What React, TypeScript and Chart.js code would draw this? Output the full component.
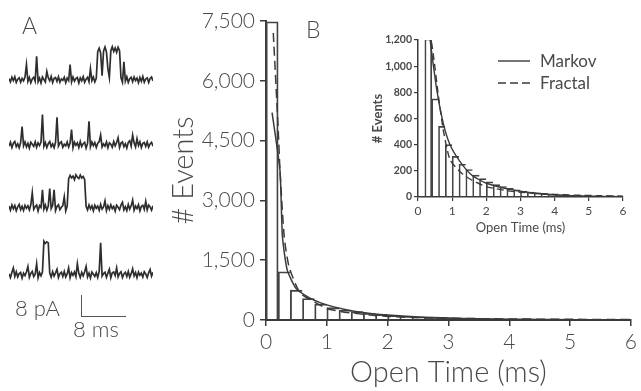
import React, { useEffect, useRef } from "react";
import { Chart, registerables } from "chart.js";
Chart.register(...registerables);

// ---------- DATA ----------
// Histogram bins (ms, bin centres) and event counts
const binMid = [0.1, 0.3, 0.5, 0.7, 0.9, 1.1, 1.3, 1.5, 1.7, 1.9, 2.1, 2.3, 2.5, 2.7, 2.9, 3.1, 3.3, 3.5, 3.7, 3.9, 4.1, 4.3, 4.5, 4.7, 4.9, 5.1, 5.3, 5.5, 5.7, 5.9];
const binCounts = [7480, 1208, 750, 540, 400, 310, 250, 210, 167, 140, 115, 95, 80, 66, 55, 46, 38, 32, 27, 22, 19, 16, 13, 11, 9, 8, 7, 6, 5, 4];

// Main panel fits
const markovTime = [0.1, 0.23, 0.27, 0.35, 0.5, 0.7, 0.9, 1.1, 1.3, 1.5, 1.75, 2.0, 2.5, 3.0, 3.5, 4.0, 4.5, 5.0, 5.5, 6.0];
const markovFit = [5200, 3750, 2100, 1250, 780, 570, 430, 335, 265, 210, 160, 125, 78, 48, 30, 20, 13, 9, 6, 4];
const fractalTime = [0.12, 0.2, 0.23, 0.3, 0.38, 0.56, 0.8, 1.0, 1.25, 1.5, 1.75, 2.0, 2.5, 3.0, 3.5, 4.0, 4.5, 5.0, 5.5, 6.0];
const fractalFit = [7200, 4800, 3750, 2080, 1330, 680, 450, 290, 205, 160, 120, 90, 62, 45, 34, 26, 21, 17, 14, 12];

// Inset fits
const insetMarkovTime = [0.33, 0.39, 0.55, 0.74, 0.94, 1.23, 1.57, 2.0, 2.69, 3.3, 4.0, 4.6, 5.3, 6.0];
const insetMarkovFit = [1260, 1124, 818, 563, 397, 270, 168, 105, 58, 32, 16, 9, 5, 3];
const insetFractalTime = [0.3, 0.45, 0.6, 0.74, 0.94, 1.28, 1.57, 2.0, 2.7, 3.3, 4.0, 4.6, 5.3, 6.0];
const insetFractalFit = [1350, 1085, 767, 512, 283, 181, 130, 79, 45, 30, 20, 14, 10, 7];

const timeTicks = [0, 1, 2, 3, 4, 5, 6];
const mainCountTicks = [0, 1500, 3000, 4500, 6000, 7500];
const insetCountTicks = [0, 200, 400, 600, 800, 1000, 1200];

// Panel A: single-channel current traces (pA)
const trace1 = [0.4, -0.8, 0.9, -0.3, 1.1, -1.0, 0.2, 0.7, -0.9, 0.5,
  -0.4, 1.0, 5.5, -0.6, 0.8, -1.1, 0.3, 0.9, -0.5, 8.5,
  -0.7, 0.6, -1.2, 1.0, 0.1, -0.8, 3.0, 0.7, -0.4, 1.2,
  -1.0, 0.5, 0.8, -0.6, 1.1, -0.9, 0.3, -0.2, 0.9, -1.1,
  0.6, -0.3, 5.5, -0.8, 1.0, -0.5, 0.4, 0.8, -1.2, 0.7,
  -0.4, 1.1, -0.9, 0.2, 0.9, -0.7, 4.0, -0.3, 1.0, -0.8,
  0.5, 10.2, 11.5, 9.8, 1.5, 10.4, 11.9, 10.1, 4.0, 0.8,
  10.5, 12.0, 10.3, 11.6, 10.0, 11.8, 10.6, 0.7, -0.9, 6.5,
  -0.5, 1.1, -1.0, 0.4, 0.9, -0.7, 1.0, -0.3, 0.6, -1.1,
  0.8, -0.6, 1.2, -0.9, 0.3, 0.7, -1.0, 0.5, 1.0, -0.4];
const trace2 = [-0.5, 0.9, -1.0, 0.6, 1.2, -0.7, 0.3, -1.1, 0.8, 6.6,
  -0.4, 1.0, -0.8, 0.5, -1.2, 0.9, 0.2, -0.6, 1.1, -0.9,
  0.7, -0.3, 1.0, 11.0, -0.6, 0.8, -1.0, 0.4, 1.2, -0.7,
  0.3, -1.1, 0.9, 10.0, -0.5, 0.6, 1.1, -0.9, 0.2, -0.4,
  1.0, -0.8, 0.6, 5.5, -1.1, 0.9, -0.2, 0.7, -1.0, 1.2,
  -0.6, 0.4, 0.9, -1.2, 0.5, 8.5, -0.7, 1.0, -0.3, 0.8,
  -1.0, 0.6, 1.1, 3.5, -0.8, 0.3, -0.5, 1.0, -1.1, 0.7,
  0.2, -0.9, 1.2, -0.4, 0.8, 2.5, -1.0, 0.6, 1.0, -0.7,
  0.4, -1.2, 0.9, 1.5, -0.5, 3.5, 0.7, -0.8, 2.2, -0.3,
  1.1, -1.0, 0.5, 0.8, -0.6, 1.0, -0.9, 0.3, 0.9, -0.5];
const trace3 = [0.6, -0.9, 1.0, -0.4, 0.8, -1.1, 0.3, 1.2, -0.7, 0.5,
  -1.0, 0.9, -0.2, 0.7, -0.8, 1.1, 5.5, -0.6, 0.4, 1.0,
  -1.2, 0.8, 0.1, 6.5, -0.5, 1.0, -0.9, 0.6, 7.0, -0.3,
  0.9, 6.5, -1.0, 0.5, 1.1, -0.7, 0.2, 0.8, 4.0, -1.1,
  0.6, 10.5, 11.8, 10.9, 11.5, 10.2, 12.0, 11.1, 10.6, 11.9,
  10.8, 11.4, 10.3, 0.5, -0.8, 1.0, -0.4, 0.7, -1.1, 0.9,
  -0.2, 0.6, -0.9, 1.2, -0.5, 0.3, 2.5, -1.0, 0.8, -0.6,
  1.1, -0.3, 0.5, -1.2, 0.9, 0.2, -0.7, 1.0, 2.0, -0.8,
  0.4, -1.0, 1.2, -0.5, 0.7, 2.8, -0.9, 0.6, -0.3, 1.1,
  -1.1, 0.5, 0.9, -0.6, 2.3, -0.8, 1.0, 0.3, -0.9, 0.7];
const trace4 = [0.3, -1.0, 0.9, 2.5, -0.6, 1.1, -0.8, 0.4, 0.8, -1.2,
  0.6, -0.3, 1.0, 3.0, -0.9, 0.5, 1.2, -0.7, 0.2, 4.0,
  -1.1, 0.8, -0.4, 1.0, 12.2, 11.4, 12.0, 11.6, 0.6, -0.9,
  1.1, -0.5, 0.7, 2.0, -1.0, 0.4, 0.9, -0.6, 1.2, -0.8,
  0.3, 2.5, -1.1, 0.8, -0.2, 1.0, -0.7, 4.0, 0.5, -1.0,
  0.9, -0.4, 1.1, 3.0, -0.8, 0.6, -1.2, 1.0, 0.2, -0.6,
  0.8, -1.0, 1.2, 11.6, -0.5, 0.4, 0.9, -0.9, 0.6, 2.0,
  -1.1, 0.7, 1.0, -0.3, 2.5, -0.8, 0.5, 1.1, -1.0, 0.3,
  0.9, -0.6, 1.2, -0.9, 0.4, 2.2, -0.4, 0.8, -1.1, 1.0,
  -0.2, 0.6, -0.8, 1.1, 0.3, -1.0, 0.7, 1.9, -0.5, 0.9];

// ---------- STYLE ----------
const FONT = "Lato, 'DejaVu Sans', sans-serif";
const TEXT = "#4a4a4a";
const LINE = "#3a3a3a";

const fmt = (v: number) => Number(v).toLocaleString("en-US");
const pts = (xs: number[], ys: number[]) => xs.map((x, i) => ({ x, y: ys[i] }));

const base = {
  responsive: false,
  animation: false as const,
  devicePixelRatio: 1,
  plugins: { legend: { display: false }, tooltip: { enabled: false } },
  events: [] as any[],
};

// bars share their side edges: draw left + top, plus the right edge only on the first (tallest) bin
const barBorder = (w: number) => (ctx: any) =>
  ctx.dataIndex === 0 ? { left: w, top: w, right: w, bottom: 0 } : { left: w, top: w, right: 0, bottom: 0 };

function useChart(ref: React.RefObject<HTMLCanvasElement>, make: () => any) {
  useEffect(() => {
    if (!ref.current) return;
    const c = new Chart(ref.current, make());
    return () => c.destroy();
  }, []);
}

function MainChart() {
  const ref = useRef<HTMLCanvasElement>(null);
  useChart(ref, () => ({
    type: "bar",
    data: {
      datasets: [
        { type: "line", data: pts(markovTime, markovFit), borderColor: LINE, borderWidth: 1.5, pointRadius: 0, tension: 0.2, order: 1, clip: false },
        { type: "line", data: pts(fractalTime, fractalFit), borderColor: LINE, borderWidth: 1.5, borderDash: [9, 5], pointRadius: 0, tension: 0.2, order: 1, clip: false },
        { type: "bar", data: pts(binMid, binCounts), backgroundColor: "rgba(0,0,0,0)", borderColor: "#444", borderWidth: barBorder(1.2), barPercentage: 1, categoryPercentage: 1, order: 2 },
      ],
    },
    options: {
      ...base,
      layout: { padding: { left: 166, top: 21, right: 6, bottom: 0 } },
      scales: {
        x: {
          type: "linear", min: 0, max: 6, offset: false,
          afterBuildTicks: (s: any) => { s.ticks = timeTicks.map((v) => ({ value: v })); },
          ticks: { color: TEXT, font: { family: FONT, size: 21, weight: "300" }, padding: 4, maxRotation: 0, autoSkip: false },
          grid: { drawOnChartArea: false, drawTicks: true, tickLength: 6, color: LINE, lineWidth: 1.5, offset: false },
          border: { display: true, color: LINE, width: 2 },
          title: { display: true, text: "Open Time (ms)", color: TEXT, font: { family: FONT, size: 29, weight: "300" }, padding: { top: 0, bottom: 1 } },
          afterFit: (s: any) => { s.height = 71; },
        },
        y: {
          type: "linear", min: 0, max: 7500,
          afterBuildTicks: (s: any) => { s.ticks = mainCountTicks.map((v) => ({ value: v })); },
          ticks: { color: TEXT, font: { family: FONT, size: 21, weight: "300" }, padding: 5, callback: (v: any) => fmt(v) },
          grid: { drawOnChartArea: false, drawTicks: true, tickLength: 6, color: LINE, lineWidth: 1.5 },
          border: { display: true, color: LINE, width: 2 },
          title: { display: true, text: "# Events", color: TEXT, font: { family: FONT, size: 29, weight: "300" }, padding: { top: 0, bottom: 0 } },
          afterFit: (s: any) => { s.width = 100; },
        },
      },
    },
  }));
  return <canvas ref={ref} width={641} height={391} style={{ position: "absolute", left: 0, top: 0 }} />;
}

function InsetChart() {
  const ref = useRef<HTMLCanvasElement>(null);
  useChart(ref, () => ({
    type: "bar",
    data: {
      datasets: [
        { type: "line", data: pts(insetMarkovTime, insetMarkovFit), borderColor: LINE, borderWidth: 1.4, pointRadius: 0, tension: 0.2, order: 1 },
        { type: "line", data: pts(insetFractalTime, insetFractalFit), borderColor: LINE, borderWidth: 1.4, borderDash: [7, 4], pointRadius: 0, tension: 0.2, order: 1 },
        { type: "bar", data: pts(binMid.slice(1), binCounts.slice(1)), backgroundColor: "rgba(0,0,0,0)", borderColor: "#444", borderWidth: barBorder(1), barPercentage: 1, categoryPercentage: 1, order: 2 },
      ],
    },
    options: {
      ...base,
      layout: { padding: { left: 10, top: 15, right: 12, bottom: 0 } },
      scales: {
        x: {
          type: "linear", min: 0, max: 6, offset: false,
          afterBuildTicks: (s: any) => { s.ticks = timeTicks.map((v) => ({ value: v })); },
          ticks: { color: TEXT, font: { family: FONT, size: 12, weight: "400" }, padding: 3, maxRotation: 0, autoSkip: false },
          grid: { drawOnChartArea: false, drawTicks: true, tickLength: 4, color: LINE, lineWidth: 1.2, offset: false },
          border: { display: true, color: LINE, width: 1.5 },
          title: { display: true, text: "Open Time (ms)", color: TEXT, font: { family: FONT, size: 13, weight: "400" }, padding: { top: 0, bottom: 4 } },
          afterFit: (s: any) => { s.height = 43; },
        },
        y: {
          type: "linear", min: 0, max: 1200,
          afterBuildTicks: (s: any) => { s.ticks = insetCountTicks.map((v) => ({ value: v })); },
          ticks: { color: TEXT, font: { family: FONT, size: 10.5, weight: "700" }, padding: 2, callback: (v: any) => fmt(v) },
          grid: { drawOnChartArea: false, drawTicks: true, tickLength: 4, color: LINE, lineWidth: 1.2 },
          border: { display: true, color: LINE, width: 1.5 },
          title: { display: true, text: "# Events", color: TEXT, font: { family: FONT, size: 13, weight: "700" }, padding: { top: 0, bottom: 0 } },
          afterFit: (s: any) => { s.width = 48; },
        },
      },
    },
  }));
  return <canvas ref={ref} width={275} height={215} style={{ position: "absolute", left: 360, top: 25 }} />;
}

function Trace({ values, top }: { values: number[]; top: number }) {
  const ref = useRef<HTMLCanvasElement>(null);
  useChart(ref, () => ({
    type: "line",
    data: {
      datasets: [{ data: values.map((v, i) => ({ x: i, y: v })), borderColor: "#2e2e2e", borderWidth: 1.7, pointRadius: 0, tension: 0, clip: false }],
    },
    options: {
      ...base,
      layout: { padding: 0 },
      scales: {
        x: { type: "linear", min: 0, max: values.length - 1, display: false },
        y: { type: "linear", min: -3, max: 15.2, display: false },
      },
    },
  }));
  return <canvas ref={ref} width={144} height={50} style={{ position: "absolute", left: 9, top }} />;
}

function Txt({ x, y, size, children, weight = 300 }: any) {
  return (
    <div style={{ position: "absolute", left: x, top: y, fontFamily: FONT, fontSize: size, fontWeight: weight, color: TEXT, lineHeight: 1, whiteSpace: "nowrap" }}>
      {children}
    </div>
  );
}

export default function App() {
  return (
    <div style={{ position: "fixed", left: 0, top: 0, width: 641, height: 391, background: "#fff", overflow: "hidden" }}>
      <Trace values={trace1} top={38} />
      <Trace values={trace2} top={103} />
      <Trace values={trace3} top={166} />
      <Trace values={trace4} top={233} />
      <MainChart />
      <InsetChart />
      <Txt x={22} y={14} size={23}>A</Txt>
      <Txt x={306} y={18} size={23}>B</Txt>
      <Txt x={15} y={297} size={22}>8 pA</Txt>
      <Txt x={73} y={318} size={22}>8 ms</Txt>
      <div style={{ position: "absolute", left: 81, top: 295, width: 0, height: 22, borderLeft: "1.5px solid #555" }} />
      <div style={{ position: "absolute", left: 81, top: 316, width: 45, height: 0, borderTop: "1.5px solid #555" }} />
      <svg width={40} height={40} style={{ position: "absolute", left: 495, top: 50 }}>
        <line x1={3} y1={11} x2={35} y2={11} stroke={LINE} strokeWidth={1.4} />
        <line x1={3} y1={33} x2={35} y2={33} stroke={LINE} strokeWidth={1.4} strokeDasharray="8 4" />
      </svg>
      <Txt x={540} y={52} size={17} weight={400}>Markov</Txt>
      <Txt x={540} y={74} size={17} weight={400}>Fractal</Txt>
    </div>
  );
}
